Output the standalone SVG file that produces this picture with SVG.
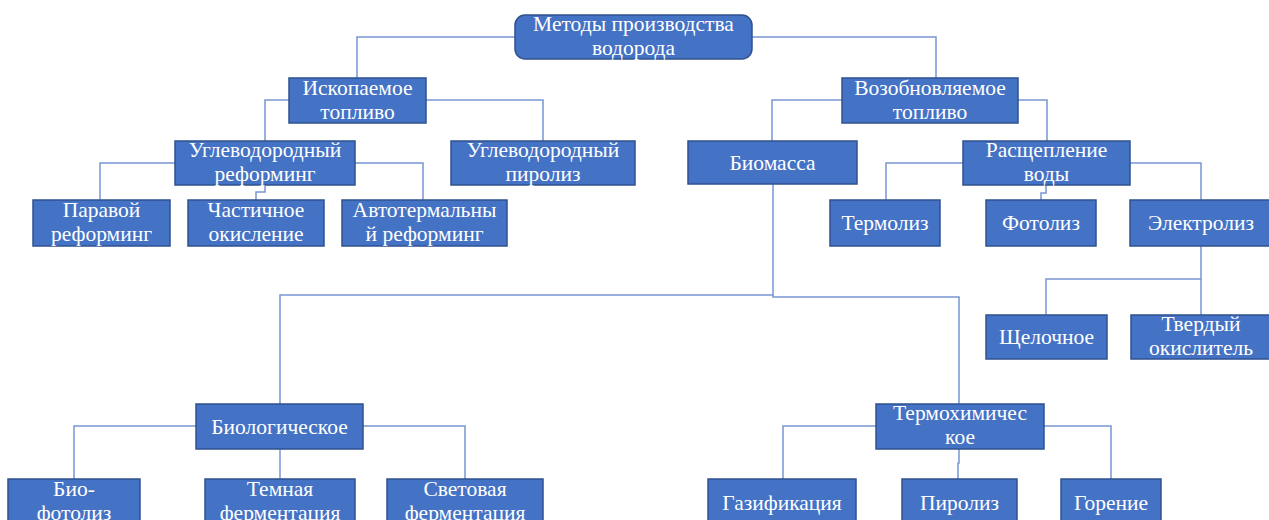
<svg xmlns="http://www.w3.org/2000/svg" width="1269" height="520" viewBox="0 0 1269 520">
<style>
.box{fill:#4472C4;stroke:#2F528F;stroke-width:1.5}
.t{fill:#ffffff;font-family:"Liberation Serif","Times New Roman",serif;font-size:21.5px;text-anchor:middle}
.c{fill:none;stroke:#7896D4;stroke-width:1.5}
</style>
<rect width="1269" height="520" fill="#ffffff"/>
<g id="connectors">
<path class="c" d="M515,37 H357 V78"/>
<path class="c" d="M752,37 H936 V78"/>
<path class="c" d="M289,100 H265 V141"/>
<path class="c" d="M426,100 H543 V141"/>
<path class="c" d="M175,163 H100 V200"/>
<path class="c" d="M265,185 V192 H256 V200"/>
<path class="c" d="M355,163 H423 V200"/>
<path class="c" d="M842,100 H772 V141"/>
<path class="c" d="M1018,100 H1047 V141"/>
<path class="c" d="M963,163 H886 V200"/>
<path class="c" d="M1046,185 V193 H1041 V200"/>
<path class="c" d="M1130,163 H1201 V200"/>
<path class="c" d="M1201,246 V279 H1046 V315"/>
<path class="c" d="M1201,279 V315"/>
<path class="c" d="M773,184 V295 H280 V404"/>
<path class="c" d="M773,295 V297 H959 V404"/>
<path class="c" d="M196,426 H74 V479"/>
<path class="c" d="M280,449 V479"/>
<path class="c" d="M363,426 H465 V479"/>
<path class="c" d="M876,426 H783 V479"/>
<path class="c" d="M959,449 V463 H958 V479"/>
<path class="c" d="M1044,426 H1111 V479"/>
</g>
<g id="root"><rect class="box" x="515" y="15" width="237" height="44" rx="10"/><text class="t" x="633.5" y="31">Методы производства</text><text class="t" x="633.5" y="55">водорода</text></g>
<g id="iskop"><rect class="box" x="289" y="78" width="137" height="45"/><text class="t" x="357.5" y="95">Ископаемое</text><text class="t" x="357.5" y="119">топливо</text></g>
<g id="vozob"><rect class="box" x="842" y="78" width="176" height="45"/><text class="t" x="930" y="95">Возобновляемое</text><text class="t" x="930" y="119">топливо</text></g>
<g id="ur"><rect class="box" x="175" y="141" width="180" height="44"/><text class="t" x="265" y="157">Углеводородный</text><text class="t" x="265" y="181">реформинг</text></g>
<g id="urp"><rect class="box" x="451" y="141" width="184" height="44"/><text class="t" x="543" y="157">Углеводородный</text><text class="t" x="543" y="181">пиролиз</text></g>
<g id="par"><rect class="box" x="33" y="200" width="137" height="46"/><text class="t" x="101.5" y="217">Паравой</text><text class="t" x="101.5" y="241">реформинг</text></g>
<g id="chast"><rect class="box" x="188" y="200" width="136" height="46"/><text class="t" x="256" y="217">Частичное</text><text class="t" x="256" y="241">окисление</text></g>
<g id="avto"><rect class="box" x="342" y="200" width="165" height="46"/><text class="t" x="424.5" y="217">Автотермальны</text><text class="t" x="424.5" y="241">й реформинг</text></g>
<g id="bio"><rect class="box" x="688" y="141" width="169" height="43"/><text class="t" x="772.5" y="170">Биомасса</text></g>
<g id="rasch"><rect class="box" x="963" y="141" width="167" height="44"/><text class="t" x="1046.5" y="157">Расщепление</text><text class="t" x="1046.5" y="181">воды</text></g>
<g id="termoliz"><rect class="box" x="830" y="200" width="110" height="46"/><text class="t" x="885" y="230">Термолиз</text></g>
<g id="fotoliz"><rect class="box" x="986" y="200" width="110" height="46"/><text class="t" x="1041" y="230">Фотолиз</text></g>
<g id="elektro"><rect class="box" x="1130" y="200" width="142" height="46"/><text class="t" x="1201" y="230">Электролиз</text></g>
<g id="shch"><rect class="box" x="986" y="315" width="121" height="44"/><text class="t" x="1046.5" y="344">Щелочное</text></g>
<g id="tverd"><rect class="box" x="1131" y="315" width="142" height="44"/><text class="t" x="1201" y="331">Твердый</text><text class="t" x="1201" y="355">окислитель</text></g>
<g id="biolog"><rect class="box" x="196" y="404" width="167" height="45"/><text class="t" x="279.5" y="434">Биологическое</text></g>
<g id="termohim"><rect class="box" x="876" y="404" width="168" height="45"/><text class="t" x="960" y="420">Термохимичес</text><text class="t" x="960" y="444">кое</text></g>
<g id="biofoto"><rect class="box" x="8" y="479" width="132" height="46"/><text class="t" x="74" y="496">Био-</text><text class="t" x="74" y="520">фотолиз</text></g>
<g id="temn"><rect class="box" x="205" y="479" width="150" height="46"/><text class="t" x="280" y="496">Темная</text><text class="t" x="280" y="520">ферментация</text></g>
<g id="svet"><rect class="box" x="387" y="479" width="156" height="46"/><text class="t" x="465" y="496">Световая</text><text class="t" x="465" y="520">ферментация</text></g>
<g id="gaz"><rect class="box" x="708" y="479" width="148" height="46"/><text class="t" x="782" y="510">Газификация</text></g>
<g id="piroliz"><rect class="box" x="902" y="479" width="115" height="46"/><text class="t" x="959.5" y="510">Пиролиз</text></g>
<g id="gorenie"><rect class="box" x="1061" y="479" width="100" height="46"/><text class="t" x="1111" y="510">Горение</text></g>
</svg>
